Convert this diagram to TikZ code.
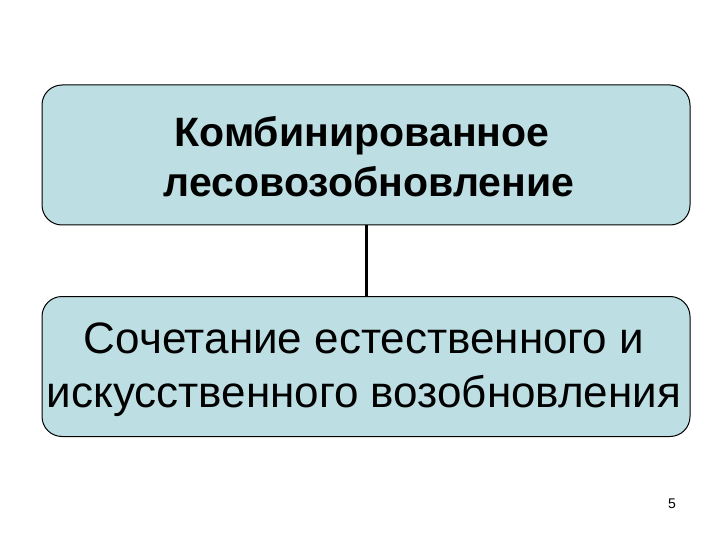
\documentclass[tikz,border=0pt]{standalone}
\usepackage{fontspec}
\setmainfont{Liberation Sans}
\definecolor{boxfill}{RGB}{189,223,227}
\begin{document}
\begin{tikzpicture}[x=1pt,y=-1pt,
  box/.style={draw=black,line width=1pt,fill=boxfill,rounded corners=20pt,
    minimum width=648pt,minimum height=140pt,inner sep=0pt},
  toptext/.style={align=center,font=\fontsize{41}{50}\selectfont\bfseries,inner sep=0pt},
  bottext/.style={align=center,font=\fontsize{44}{54}\selectfont,inner sep=0pt},
  link/.style={line width=3pt}]
\useasboundingbox[fill=white] (0,0) rectangle (720,540);
\node[box] (top) at (366,155) {};
\node[box] (bot) at (366,366.5) {};
\node[toptext] (toplbl) at (366,157) {Комбинированное\hspace*{8pt}\\\hspace*{6pt}лесовозобновление};
\node[bottext] (botlbl) at (364,370) {Сочетание естественного и\\искусственного возобновления};
\draw[link] (top.south) -- (bot.north);
\node[font=\fontsize{14}{16}\selectfont,inner sep=0pt] (pg) at (672,504) {5};
\end{tikzpicture}
\end{document}
